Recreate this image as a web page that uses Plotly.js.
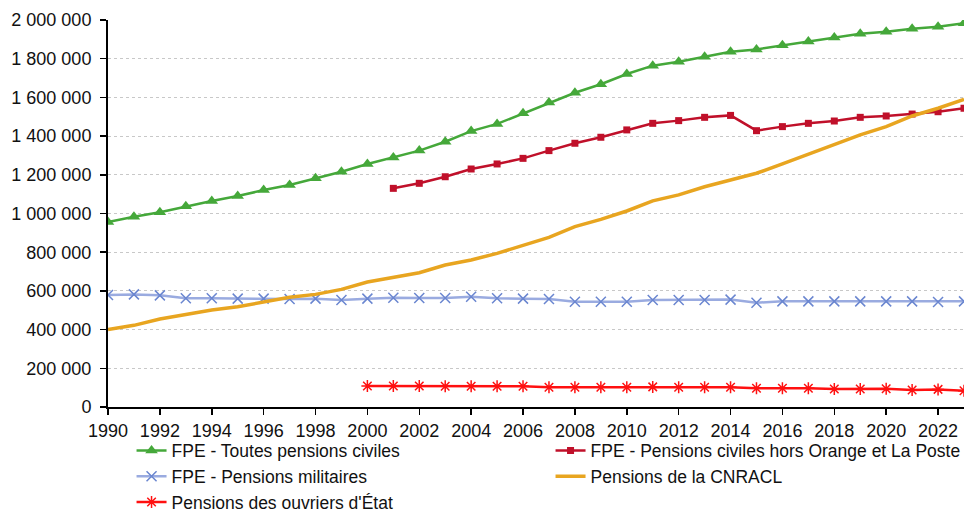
<!DOCTYPE html>
<html><head><meta charset="utf-8">
<script src="https://cdn.plot.ly/plotly-3.0.1.min.js"></script>
<style>body{margin:0;background:#fff}#chart{width:966px;height:512px}</style>
</head><body><div id="chart"></div>
<script>
const years = [];
for (let y = 1990; y <= 2023; y++) years.push(y);

const fpeCiviles = [956000,983000,1006000,1037000,1065000,1090000,1121000,1147000,1182000,1216000,
 1256000,1290000,1325000,1371000,1426000,1463000,1518000,1573000,1624000,1668000,
 1721000,1764000,1784000,1810000,1836000,1848000,1869000,1889000,1910000,1929000,
 1939000,1955000,1965000,1983000];
const yearsHorsOrange = years.slice(11);
const fpeHorsOrange = [1130000,1156000,1190000,1230000,1256000,1285000,1325000,1363000,1394000,1432000,
 1466000,1480000,1497000,1507000,1428000,1449000,1466000,1478000,1497000,1504000,
 1514000,1526000,1544000];
const fpeMilitaires = [579000,582000,577000,562000,562000,560000,560000,558000,560000,553000,
 560000,565000,563000,563000,570000,562000,560000,558000,544000,544000,
 544000,553000,553000,553000,555000,539000,546000,546000,546000,546000,
 546000,546000,543000,546000];
const cnracl = [401000,422000,455000,479000,501000,518000,544000,567000,582000,608000,
 646000,670000,694000,734000,760000,794000,837000,877000,932000,970000,
 1013000,1065000,1096000,1138000,1173000,1208000,1256000,1307000,1359000,1406000,
 1449000,1504000,1544000,1590000];
const yearsOuvriers = years.slice(10);
const ouvriers = [109000,109000,109000,107000,107000,107000,107000,102000,102000,102000,
 102000,104000,102000,102000,102000,97000,97000,97000,93000,93000,
 94000,88000,91000,84000];

const names = ["FPE - Toutes pensions civiles","FPE - Pensions civiles hors Orange et La Poste",
 "FPE - Pensions militaires","Pensions de la CNRACL","Pensions des ouvriers d'État"];
const xTicks = [];
for (let y = 1990; y <= 2022; y += 2) xTicks.push(y);

const traces = [
 {x: years, y: fpeCiviles, name: names[0], mode: 'lines+markers',
  line: {color: '#45a83a', width: 2.5}, marker: {symbol: 'triangle-up', size: 11, color: '#45a83a'}},
 {x: yearsHorsOrange, y: fpeHorsOrange, name: names[1], mode: 'lines+markers',
  line: {color: '#c0102a', width: 2.5}, marker: {symbol: 'square', size: 7, color: '#c0102a'}},
 {x: years, y: fpeMilitaires, name: names[2], mode: 'lines+markers',
  line: {color: '#9aabe0', width: 2.5}, marker: {symbol: 'x-thin-open', size: 10, color: '#6a86d0', line: {color: '#6a86d0', width: 1.5}}},
 {x: years, y: cnracl, name: names[3], mode: 'lines',
  line: {color: '#e8a520', width: 3.5}},
 {x: yearsOuvriers, y: ouvriers, name: names[4], mode: 'lines+markers',
  line: {color: '#ff1010', width: 2.5}, marker: {symbol: 'asterisk-open', size: 10, color: '#ff1010', line: {color: '#ff1010', width: 1.5}}}
];

const layout = {
 width: 966, height: 512,
 margin: {l: 108, r: 2, t: 20, b: 105, autoexpand: false},
 paper_bgcolor: '#fff', plot_bgcolor: '#fff',
 separators: ', ',
 font: {family: 'Liberation Sans, Arial, sans-serif', color: '#111', size: 18},
 showlegend: true,
 xaxis: {range: [1990, 2023], tickvals: xTicks, ticktext: xTicks.map(String),
  showgrid: false, zeroline: false, showline: true, linecolor: '#000', linewidth: 2,
  ticks: 'outside', ticklen: 6, tickcolor: '#000', tickwidth: 1.5,
  tickfont: {size: 18, color: '#111'}},
 yaxis: {range: [0, 2000000], dtick: 200000, tickformat: ',d',
  showgrid: true, gridcolor: '#c8c8c8', griddash: 'dot', gridwidth: 1,
  zeroline: false, showline: true, linecolor: '#000', linewidth: 2,
  ticks: 'outside', ticklen: 6, tickcolor: '#000', tickwidth: 1.5, ticklabelstandoff: 5,
  tickfont: {size: 18, color: '#111'}},
 legend: {orientation: 'h', x: 0.0275, xanchor: 'left', y: -0.066, yanchor: 'top',
  entrywidth: 374, entrywidthmode: 'pixels', font: {size: 17.5, color: '#111'},
  bgcolor: 'rgba(0,0,0,0)'}
};

Plotly.newPlot('chart', traces, layout, {displayModeBar: false, staticPlot: true});
</script></body></html>
